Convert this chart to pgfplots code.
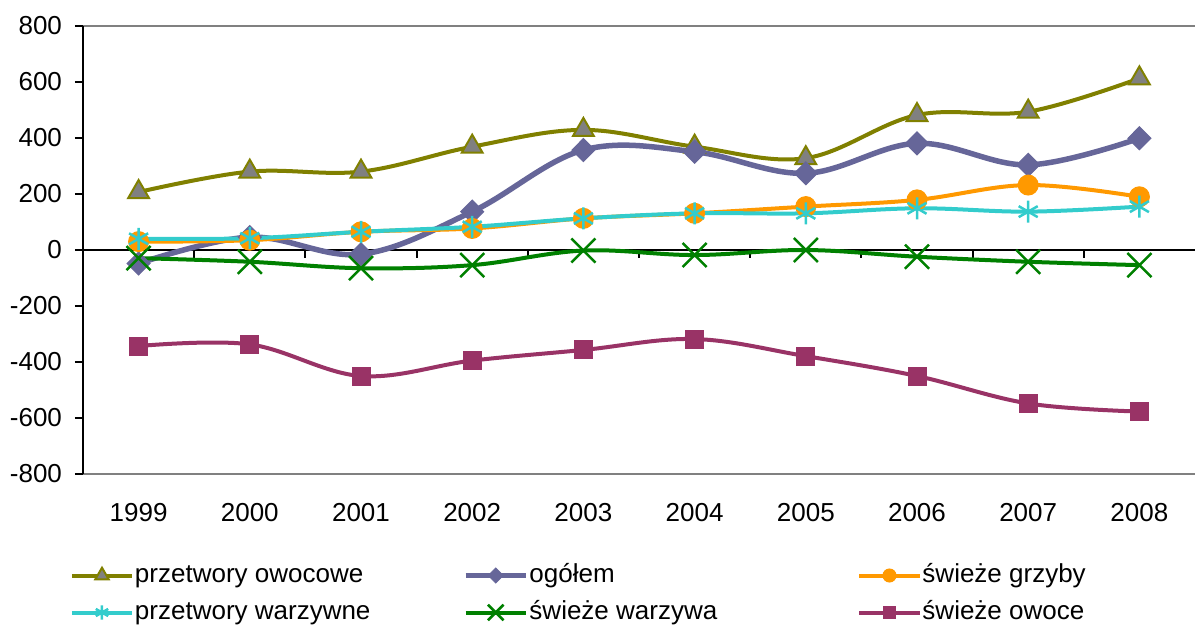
\documentclass[border=0pt]{standalone}
\usepackage{fontspec}
\setmainfont{Liberation Sans}
\usepackage{pgfplots}
\pgfplotsset{compat=1.18}
\definecolor{colOlive}{HTML}{808000}
\definecolor{colGray}{HTML}{808080}
\definecolor{colPurple}{HTML}{666699}
\definecolor{colOrange}{HTML}{FF9900}
\definecolor{colCyan}{HTML}{33CCCC}
\definecolor{colGreen}{HTML}{008000}
\definecolor{colMaroon}{HTML}{993366}
\begin{document}
\fontsize{13}{15.6}\selectfont
\begin{tikzpicture}
\begin{axis}[
  name=ax,
  scale only axis, width=556pt, height=224pt,
  xmin=-0.5, xmax=9.5, ymin=-800, ymax=800,
  clip=false,
  axis line style={draw=none},
  xtick={0,...,9},
  xticklabels={1999,2000,2001,2002,2003,2004,2005,2006,2007,2008},
  xtick style={draw=none},
  ytick={-800,-600,-400,-200,0,200,400,600,800},
  yticklabels={-800,-600,-400,-200,0,200,400,600,800},
  ytick pos=left,
  tick align=outside,
  major tick length=4pt,
  ytick style={black, line width=1pt},
  yticklabel style={xshift=-2pt},
  xticklabel style={yshift=-6pt},
  legend columns=3,
  legend cell align=left,
  legend style={draw=none, fill=none, inner sep=0pt, outer sep=0pt,
    at={(rel axis cs:0,0)}, anchor=north west, xshift=-6.5pt, yshift=-44.5pt,
    row sep=6pt,
    nodes={inner sep=0pt, text height=9.5pt, text depth=3pt},
    /tikz/every odd column/.append style={column sep=0.5pt},
    /tikz/every even column/.append style={column sep=0pt}},
  legend image code/.code={\draw[mark repeat=2, mark phase=2, every mark/.append style={scale=0.65}] plot coordinates {(0pt,0pt) (15pt,0pt) (30pt,0pt)};},
  every axis plot/.append style={smooth, tension=0.6},
]
% frame and zero line
\draw[colGray, line width=1pt] (rel axis cs:0,1) -- (rel axis cs:1,1);
\draw[colGray, line width=1pt] (rel axis cs:0,0) -- (rel axis cs:1,0);
\draw[black, line width=1pt] (axis cs:-0.5,0) -- (axis cs:9.5,0);
\draw[black, line width=1pt] (axis cs:0.5,0) -- ++(0pt,-4pt);
\draw[black, line width=1pt] (axis cs:1.5,0) -- ++(0pt,-4pt);
\draw[black, line width=1pt] (axis cs:2.5,0) -- ++(0pt,-4pt);
\draw[black, line width=1pt] (axis cs:3.5,0) -- ++(0pt,-4pt);
\draw[black, line width=1pt] (axis cs:4.5,0) -- ++(0pt,-4pt);
\draw[black, line width=1pt] (axis cs:5.5,0) -- ++(0pt,-4pt);
\draw[black, line width=1pt] (axis cs:6.5,0) -- ++(0pt,-4pt);
\draw[black, line width=1pt] (axis cs:7.5,0) -- ++(0pt,-4pt);
\draw[black, line width=1pt] (axis cs:8.5,0) -- ++(0pt,-4pt);
\draw[black, line width=1pt] (rel axis cs:0,0) -- (rel axis cs:0,1);

% przetwory owocowe
\addplot[colOlive, line width=2pt, mark=triangle*, mark size=6pt,
  mark options={fill=colGray, draw=colOlive, line width=1pt}]
  coordinates {(0,207) (1,280) (2,280) (3,369) (4,429) (5,369) (6,328) (7,482) (8,494) (9,613)};
\addlegendentry{\makebox[164pt][l]{przetwory owocowe}}
% ogolem
\addplot[colPurple, line width=2.75pt, mark=diamond*, mark size=5.75pt,
  mark options={fill=colPurple, draw=colPurple, line width=0.5pt, xscale=1.33}]
  coordinates {(0,-48) (1,46) (2,-15) (3,137) (4,357) (5,351) (6,274) (7,381) (8,304) (9,399)};
\addlegendentry{\makebox[164pt][l]{ogółem}}
% swieze grzyby
\addplot[colOrange, line width=2pt, mark=*, mark size=5pt,
  mark options={fill=colOrange, draw=colOrange, line width=0.5pt}]
  coordinates {(0,30) (1,35) (2,65) (3,77) (4,113) (5,131) (6,155) (7,179) (8,232) (9,190)};
\addlegendentry{świeże grzyby}
% przetwory warzywne
\addplot[colCyan, line width=2pt, mark=asterisk, mark size=5.5pt,
  mark options={draw=colCyan, line width=1.25pt}]
  coordinates {(0,40) (1,42) (2,65) (3,83) (4,113) (5,131) (6,131) (7,149) (8,137) (9,155)};
\addlegendentry{\makebox[164pt][l]{przetwory warzywne}}
% swieze warzywa
\addplot[colGreen, line width=2pt, mark=x, mark size=8.5pt,
  mark options={draw=colGreen, line width=1.25pt}]
  coordinates {(0,-29) (1,-42) (2,-65) (3,-54) (4,-2) (5,-18) (6,0) (7,-24) (8,-42) (9,-54)};
\addlegendentry{\makebox[164pt][l]{świeże warzywa}}
% swieze owoce
\addplot[colMaroon, line width=2pt, mark=square*, mark size=4.5pt,
  mark options={fill=colMaroon, draw=colMaroon, line width=0.5pt}]
  coordinates {(0,-343) (1,-337) (2,-450) (3,-395) (4,-357) (5,-318) (6,-379) (7,-450) (8,-548) (9,-577)};
\addlegendentry{świeże owoce}
\end{axis}
\pgfresetboundingbox
\path ([xshift=-41.5pt,yshift=-77pt]ax.south west) rectangle ([yshift=13pt]ax.north east);
\end{tikzpicture}
\end{document}
